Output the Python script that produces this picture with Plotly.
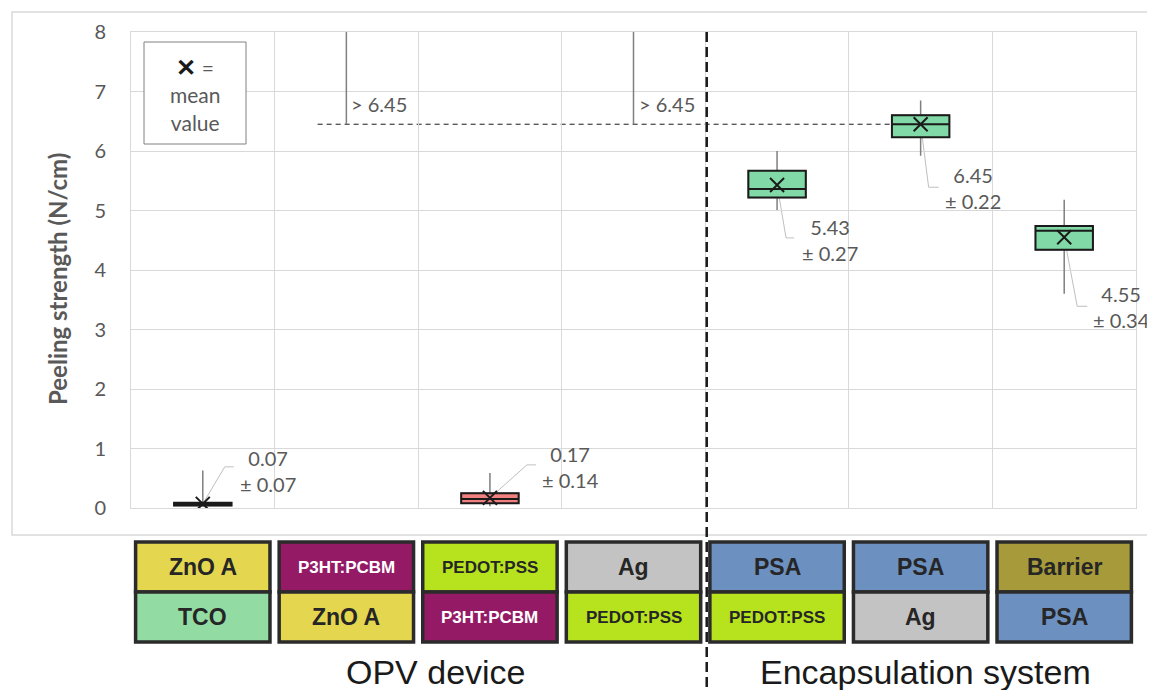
import plotly.graph_objects as go

# ---------------- data ----------------
top_layer = ["ZnO A", "P3HT:PCBM", "PEDOT:PSS", "Ag", "PSA", "PSA", "Barrier"]
bottom_layer = ["TCO", "ZnO A", "P3HT:PCBM", "PEDOT:PSS", "PEDOT:PSS", "Ag", "PSA"]
categories = [f"{t} / {b}" for t, b in zip(top_layer, bottom_layer)]

q1 = [0.04, None, 0.08, None, 5.22, 6.23, 4.34]
median = [0.07, None, 0.15, None, 5.36, 6.45, 4.66]
q3 = [0.09, None, 0.25, None, 5.67, 6.60, 4.74]
lower_fence = [0.03, None, 0.03, None, 5.01, 5.92, 3.60]
upper_fence = [0.63, None, 0.59, None, 6.00, 6.85, 5.18]
mean = [0.07, None, 0.17, None, 5.43, 6.45, 4.55]
std = [0.07, None, 0.14, None, 0.27, 0.22, 0.34]
lower_bound = [None, 6.45, None, 6.45, None, None, None]   # "> 6.45" (not peeled)

y_ticks = [0, 1, 2, 3, 4, 5, 6, 7, 8]
group_labels = ["OPV device", "Encapsulation system"]

# ---------------- styles ----------------
box_fill = ["#111111", None, "#F08080", None, "#80D9A6", "#80D9A6", "#80D9A6"]
material_style = {
    "ZnO A": ("#E5D650", "#262626", 23),
    "TCO": ("#92DBA3", "#262626", 23),
    "P3HT:PCBM": ("#941A66", "#FFFFFF", 17),
    "PEDOT:PSS": ("#B6E31E", "#262626", 17),
    "Ag": ("#C3C3C3", "#262626", 23),
    "PSA": ("#6C90C0", "#262626", 23),
    "Barrier": ("#A69A3A", "#262626", 23),
}
label_offsets = {0: (65, 33), 2: (81, 31), 4: (53, -55), 5: (52, -64), 6: (57, -70)}
leader_paths = {
    0: "M0,0 L22,37 L31,37",
    2: "M0,0 L37,33 L46,33",
    4: "M0,0 L9,-53 L17,-53",
    5: "M0,0 L8,-63 L18,-63",
    6: "M0,0 L13,-69 L23,-69",
}
GRAY_TXT = "#595959"
FONT = "Lato, Open Sans, sans-serif"

# page has an 8px body margin -> compensate so the plot lands where the reference has it
OFF = 8
W, H = 1155, 690
PL, PT, PR, PB = 131, 32, 1136, 508          # plot area in window pixels
plot_w, plot_h = PR - PL, PB - PT
L, T = PL - OFF, PT - OFF
R = W - L - plot_w
B = H - T - plot_h


def py(pix):  # window pixel y -> paper
    return (PB - pix) / plot_h


def px(pix):  # window pixel x -> paper
    return (pix - PL) / plot_w


fig = go.Figure()

# boxes
for i, cat in enumerate(categories):
    if q1[i] is None:
        continue
    fig.add_trace(go.Box(
        x=[cat], q1=[q1[i]], median=[median[i]], q3=[q3[i]],
        lowerfence=[lower_fence[i]], upperfence=[upper_fence[i]],
        width=0.4, whiskerwidth=0, fillcolor=box_fill[i],
        line=dict(color="#7f7f7f", width=1.5), showlegend=False, hoverinfo="skip"))
    fig.add_trace(go.Box(
        x=[cat], q1=[q1[i]], median=[median[i]], q3=[q3[i]],
        lowerfence=[q1[i]], upperfence=[q3[i]],
        width=0.4, whiskerwidth=0, fillcolor=box_fill[i],
        line=dict(color="#1a1a1a", width=2), showlegend=False, hoverinfo="skip"))

# lower-bound whiskers ("> 6.45")
for i, cat in enumerate(categories):
    if lower_bound[i] is None:
        continue
    fig.add_trace(go.Scatter(
        x=[cat, cat], y=[lower_bound[i], y_ticks[-1]], mode="lines",
        line=dict(color="#7f7f7f", width=1.5), showlegend=False, hoverinfo="skip"))
    fig.add_annotation(x=cat, y=lower_bound[i], text=f"> {lower_bound[i]:.2f}",
                       showarrow=False, xanchor="left", yanchor="middle", xshift=3, yshift=20,
                       font=dict(family=FONT, size=20, color=GRAY_TXT))

# mean markers
mx = [c for c, m in zip(categories, mean) if m is not None]
my = [m for m in mean if m is not None]
fig.add_trace(go.Scatter(
    x=mx, y=my, mode="markers",
    marker=dict(symbol="x-thin", size=14, line=dict(width=2, color="#1a1a1a")),
    showlegend=False, hoverinfo="skip"))

# value labels + leader lines
for i, cat in enumerate(categories):
    if mean[i] is None:
        continue
    dx, dy = label_offsets[i]
    fig.add_annotation(x=cat, y=mean[i], text=f"{mean[i]:.2f}<br>± {std[i]:.2f}",
                       showarrow=False, xanchor="center", yanchor="middle",
                       xshift=dx, yshift=dy,
                       font=dict(family=FONT, size=20, color=GRAY_TXT))
    fig.add_shape(type="path", xref="x", yref="y", xsizemode="pixel", ysizemode="pixel",
                  xanchor=i, yanchor=mean[i], path=leader_paths[i],
                  line=dict(color="#bfbfbf", width=1), layer="below")

# dashed reference line at 6.45
ref_val = lower_bound[1]
fig.add_shape(type="line", xref="x", yref="y", x0=1 - 0.2, x1=5 - 0.2, y0=ref_val, y1=ref_val,
              line=dict(color="#1a1a1a", width=1, dash="5px,4px"), layer="below")

# group separator
fig.add_shape(type="line", xref="x", yref="paper", x0=3.51, x1=3.51, y0=1.0, y1=py(H + 5),
              line=dict(color="#1a1a1a", width=2.5, dash="10px,5px"))

# outer frame
fig.add_shape(type="rect", xref="paper", yref="paper", x0=px(12), x1=px(W + 20),
              y0=py(535), y1=py(12), line=dict(color="#d9d9d9", width=1.5), layer="below")

# legend box
fig.add_shape(type="rect", xref="paper", yref="paper", x0=px(144), x1=px(246),
              y0=py(144), y1=py(42), line=dict(color="#808080", width=1),
              fillcolor="white")
fig.add_annotation(xref="paper", yref="paper", x=px(195), y=py(93),
                   xanchor="center", yanchor="middle",
                   text="<span style='color:#1a1a1a;font-size:24px'><b>✕</b></span> =<br>mean<br>value",
                   showarrow=False, font=dict(family=FONT, size=21, color=GRAY_TXT))

# y-axis title
fig.add_annotation(xref="paper", yref="paper", x=px(57), y=py(279), textangle=-90,
                   xanchor="center", yanchor="middle",
                   text="<b>Peeling strength (N/cm)</b>", showarrow=False,
                   font=dict(family=FONT, size=24, color=GRAY_TXT))

# layer table below the axis
rows = [(top_layer, 542, 592), (bottom_layer, 592, 642)]
for layer_names, ytop, ybot in rows:
    for i, name in enumerate(layer_names):
        fill, tcol, fsize = material_style[name]
        fig.add_shape(type="rect", xref="x", yref="paper", x0=i - 0.468, x1=i + 0.468,
                      y0=py(ybot), y1=py(ytop), fillcolor=fill,
                      line=dict(color="#2b2b2b", width=3.5))
        fig.add_annotation(x=categories[i], xref="x", yref="paper", y=py((ytop + ybot) / 2),
                           xanchor="center", yanchor="middle",
                           text=f"<b>{name}</b>", showarrow=False,
                           font=dict(family="Liberation Sans Narrow, Liberation Sans, Arial",
                                     size=fsize, color=tcol))

# group labels
for lab, cx in zip(group_labels, [436, 925]):
    fig.add_annotation(xref="paper", yref="paper", x=px(cx), y=py(672), text=lab,
                       xanchor="center", yanchor="middle", showarrow=False,
                       font=dict(family="Liberation Sans, Arial", size=34, color="#1a1a1a"))

fig.update_layout(
    width=W, height=H, margin=dict(l=L, r=R, t=T, b=B),
    paper_bgcolor="white", plot_bgcolor="white", boxmode="overlay",
    showlegend=False,
    xaxis=dict(type="category", categoryorder="array", categoryarray=categories,
               range=[-0.5, 6.5], tickson="boundaries", showticklabels=False,
               showgrid=True, gridcolor="#d9d9d9", gridwidth=1, ticks="",
               showline=True, mirror=True, linecolor="#d9d9d9", zeroline=False),
    yaxis=dict(range=[0, 8], tickvals=y_ticks, showgrid=True, gridcolor="#d9d9d9",
               gridwidth=1, zeroline=False, ticks="", ticklabelstandoff=20,
               tickfont=dict(family=FONT, size=20, color=GRAY_TXT),
               showline=True, mirror=True, linecolor="#d9d9d9"),
)

fig.write_html("out.html")
